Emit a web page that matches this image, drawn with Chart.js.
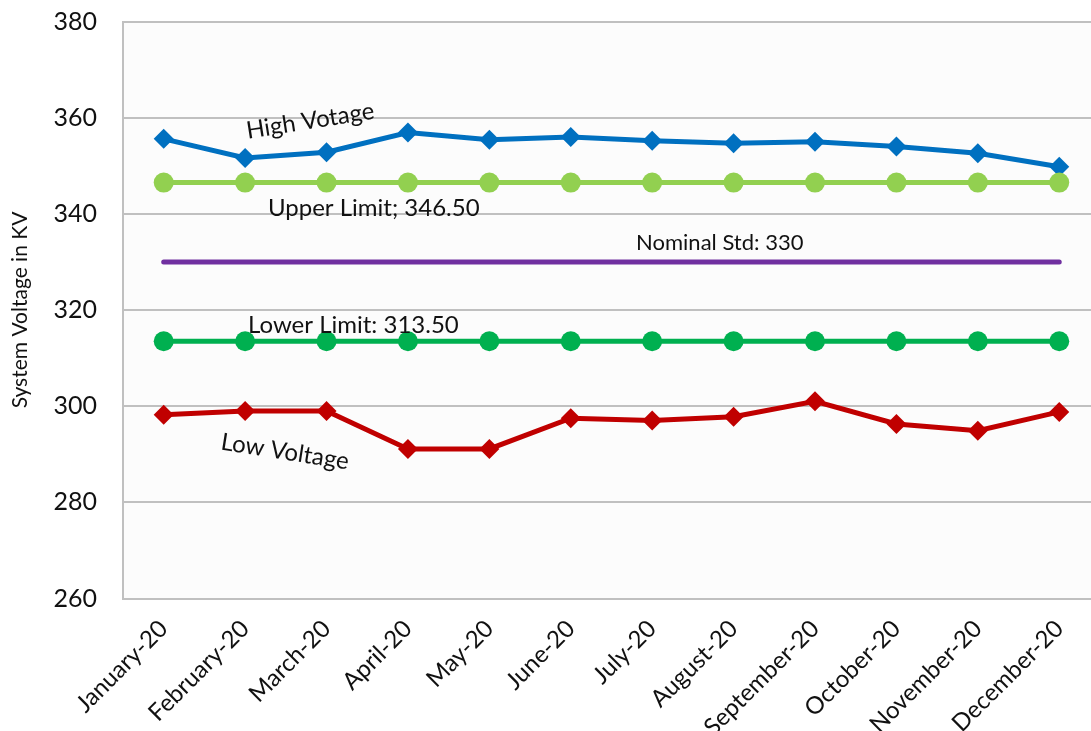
<!DOCTYPE html>
<html>
<head>
<meta charset="utf-8">
<script src="https://cdn.jsdelivr.net/npm/chart.js@4.4.1/dist/chart.umd.min.js"></script>
<style>
  html, body { margin: 0; padding: 0; background: #ffffff; }
  #wrap { position: relative; width: 1091px; height: 731px; }
</style>
</head>
<body>
<div id="wrap"><canvas id="voltage-chart"></canvas></div>
<script>
// Monthly system voltage, 2020
const months = ['January-20', 'February-20', 'March-20', 'April-20', 'May-20', 'June-20',
  'July-20', 'August-20', 'September-20', 'October-20', 'November-20', 'December-20'];
const highVoltage = [355.6, 351.6, 352.8, 356.9, 355.4, 356.0, 355.2, 354.7, 355.0, 354.0, 352.6, 349.8];
const lowVoltage = [298.2, 299.0, 299.0, 291.1, 291.1, 297.5, 297.0, 297.8, 301.0, 296.3, 294.9, 298.8];
const upperLimit = 346.5;
const lowerLimit = 313.5;
const nominalStd = 330;
const yTicks = [260, 280, 300, 320, 340, 360, 380];

const FONT = 'Lato, "Noto Sans", sans-serif';

// text notes placed in data units (x = month index, y = kV)
const notes = [
  { text: 'High Votage', x: 1.8, y: 359.3, angle: -9, size: 24 },
  { text: 'Upper Limit; 346.50', x: 2.58, y: 341.2, angle: 0, size: 24 },
  { text: 'Nominal Std: 330', x: 6.83, y: 334.0, angle: 0, size: 22 },
  { text: 'Lower Limit: 313.50', x: 2.33, y: 316.9, angle: 0, size: 24 },
  { text: 'Low Voltage', x: 1.49, y: 290.5, angle: 9, size: 24 }
];

function toPoints(values) {
  return values.map((v, i) => ({ x: i, y: v }));
}

function flat(value) {
  return months.map((m, i) => ({ x: i, y: value }));
}

// light fill behind the plot area
const plotBackground = {
  id: 'plotBackground',
  beforeDraw(chart) {
    const { ctx, chartArea: a } = chart;
    ctx.save();
    ctx.fillStyle = '#fcfcfc';
    ctx.fillRect(a.left, a.top, a.right - a.left, a.bottom - a.top);
    ctx.restore();
  }
};

const noteLabels = {
  id: 'noteLabels',
  afterDatasetsDraw(chart) {
    const { ctx, scales } = chart;
    ctx.save();
    ctx.fillStyle = '#111111';
    ctx.textAlign = 'center';
    ctx.textBaseline = 'middle';
    notes.forEach(n => {
      const px = scales.x.getPixelForValue(n.x);
      const py = scales.y.getPixelForValue(n.y);
      ctx.save();
      ctx.translate(px, py);
      ctx.rotate(n.angle * Math.PI / 180);
      ctx.font = n.size + 'px ' + FONT;
      ctx.fillText(n.text, 0, 0);
      ctx.restore();
    });
    ctx.restore();
  }
};

const ctx = document.getElementById('voltage-chart').getContext('2d');

new Chart(ctx, {
  type: 'line',
  data: {
    datasets: [
      {
        label: 'Nominal Std',
        data: flat(nominalStd),
        borderColor: '#7030a0',
        borderWidth: 5,
        borderCapStyle: 'round',
        pointRadius: 0
      },
      {
        label: 'Lower Limit',
        data: flat(lowerLimit),
        borderColor: '#00b050',
        backgroundColor: '#00b050',
        borderWidth: 5,
        pointStyle: 'circle',
        pointRadius: 10,
        pointBorderWidth: 0
      },
      {
        label: 'Upper Limit',
        data: flat(upperLimit),
        borderColor: '#92d050',
        backgroundColor: '#92d050',
        borderWidth: 5,
        pointStyle: 'circle',
        pointRadius: 10,
        pointBorderWidth: 0
      },
      {
        label: 'Low Voltage',
        data: toPoints(lowVoltage),
        borderColor: '#c00000',
        backgroundColor: '#c00000',
        borderWidth: 5,
        pointStyle: 'rectRot',
        pointRadius: 10,
        pointBorderWidth: 0
      },
      {
        label: 'High Voltage',
        data: toPoints(highVoltage),
        borderColor: '#0070c0',
        backgroundColor: '#0070c0',
        borderWidth: 5,
        pointStyle: 'rectRot',
        pointRadius: 10,
        pointBorderWidth: 0
      }
    ]
  },
  options: {
    responsive: true,
    maintainAspectRatio: false,
    animation: false,
    layout: {
      autoPadding: false,
      padding: { top: 21.5, right: 0, bottom: 0, left: 0 }
    },
    plugins: {
      legend: { display: false },
      tooltip: { enabled: false }
    },
    scales: {
      x: {
        type: 'linear',
        min: -0.5,
        max: 11.39,
        grid: { display: false },
        border: { display: false },
        afterBuildTicks(scale) {
          scale.ticks = months.map((m, i) => ({ value: i }));
        },
        afterFit(scale) {
          scale.height = 132.5;
          // let the plot run to the right edge
          scale.paddingRight = 0;
        },
        ticks: {
          autoSkip: false,
          minRotation: 45,
          maxRotation: 45,
          padding: 8,
          color: '#111111',
          font: { family: FONT, size: 24 },
          callback: (value) => months[value]
        }
      },
      y: {
        min: 260,
        max: 380,
        afterBuildTicks(scale) {
          scale.ticks = yTicks.map(v => ({ value: v }));
        },
        afterFit(scale) {
          scale.width = 123;
          scale.paddingTop = 0;
          scale.paddingBottom = 0;
        },
        grid: {
          color: '#c0c0c0',
          lineWidth: 2,
          drawTicks: false
        },
        border: { display: true, color: '#c0c0c0', width: 2 },
        ticks: {
          padding: 26,
          color: '#111111',
          font: { family: FONT, size: 25 }
        },
        title: {
          display: true,
          text: 'System Voltage in KV',
          color: '#111111',
          padding: { top: 8, bottom: 4 },
          font: { family: FONT, size: 21 }
        }
      }
    }
  },
  plugins: [plotBackground, noteLabels]
});
</script>
</body>
</html>
